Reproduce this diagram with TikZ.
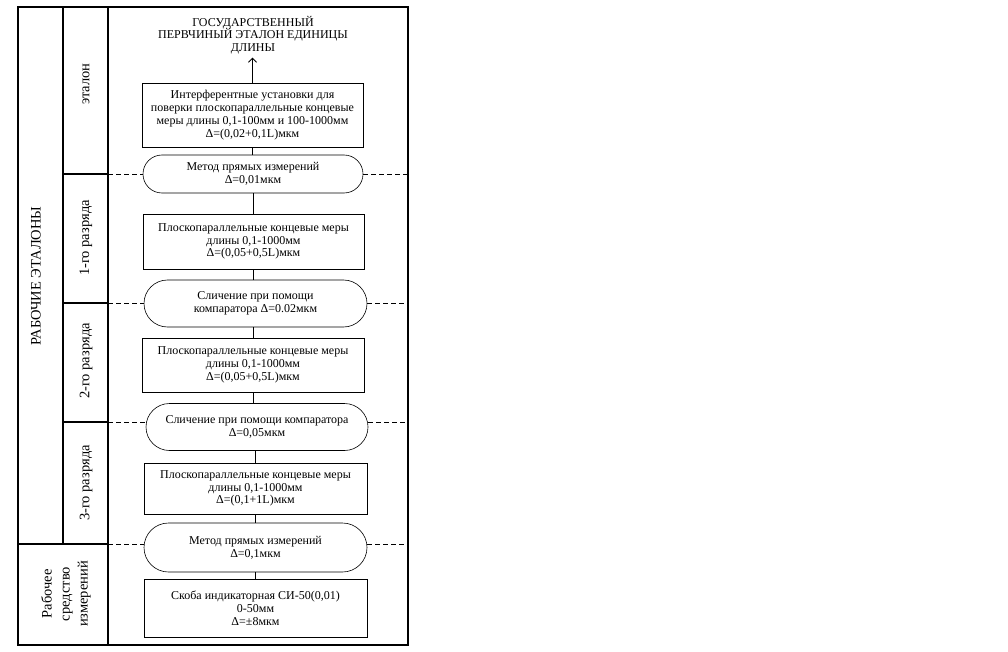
\documentclass[tikz,border=0pt]{standalone}
\usepackage{fontspec}
\setmainfont{Liberation Serif}
\usetikzlibrary{shapes.misc,arrows.meta}

\newcommand{\tfont}{\fontsize{12}{12.8}\selectfont}
\newcommand{\rfont}{\fontsize{14.5}{17}\selectfont}
\tikzstyle{bS}=[rectangle,draw,line width=0.8pt,inner sep=0pt,align=center,font=\tfont]
\tikzstyle{tS}=[rounded rectangle,draw,line width=0.6pt,inner sep=0pt,align=center,font=\tfont]
\tikzstyle{lS}=[rotate=90,align=center,font=\rfont]
\tikzstyle{eS}=[line width=0.8pt]
\tikzstyle{dS}=[line width=0.8pt,dash pattern=on 5pt off 3pt]
\tikzstyle{fS}=[line width=1.2pt]

\begin{document}
\begin{tikzpicture}[x=1pt,y=-1pt]
\useasboundingbox (0,0) rectangle (1008,652);
% table frame
\draw[fS] (18,7) rectangle (408,645);
\draw[fS] (63,7) -- (63,544) (108,7) -- (108,645);
\draw[fS] (63,174) -- (108,174) (63,303) -- (108,303) (63,422) -- (108,422) (18,544) -- (108,544);
\coordinate (r1) at (108,174);
\coordinate (r2) at (108,303);
\coordinate (r3) at (108,422);
\coordinate (r4) at (108,544);
\coordinate (fR) at (408,0);

% labels
\draw (36,276) node[lS] (lw) {РАБОЧИЕ ЭТАЛОНЫ};
\draw (86,84) node[lS] (l0) {эталон};
\draw (86,238) node[lS] (l1) {1-го разряда};
\draw (86,361) node[lS] (l2) {2-го разряда};
\draw (86,483) node[lS] (l3) {3-го разряда};
\draw (66,594) node[lS,font=\fontsize{14.5}{18}\selectfont] (l4) {Рабочее\\ средство\\ измерений};

% chain
\draw (253,35) node[align=center,font=\tfont] (t0) {ГОСУДАРСТВЕННЫЙ\\ ПЕРВЧИНЫЙ ЭТАЛОН ЕДИНИЦЫ\\ ДЛИНЫ};
\draw (252.5,115) node[bS,minimum width=221pt,minimum height=64pt] (b1) {Интерферентные установки для\\ поверки плоскопараллельные концевые\\ меры длины 0,1-100мм и 100-1000мм\\ Δ=(0,02+0,1L)мкм};
\draw (253,174) node[tS,minimum width=220pt,minimum height=38pt] (e1) {Метод прямых измерений\\ Δ=0,01мкм};
\draw (253.5,241.5) node[bS,minimum width=221pt,minimum height=55pt] (b2) {Плоскопараллельные концевые меры\\ длины 0,1-1000мм\\ Δ=(0,05+0,5L)мкм};
\draw (255.5,303.5) node[tS,minimum width=223pt,minimum height=47pt] (e2) {Сличение при помощи\\ компаратора Δ=0.02мкм};
\draw (253,365) node[bS,minimum width=222pt,minimum height=54pt] (b3) {Плоскопараллельные концевые меры\\ длины 0,1-1000мм\\ Δ=(0,05+0,5L)мкм};
\draw (257,427) node[tS,minimum width=222pt,minimum height=47pt] (e3) {Сличение при помощи компаратора\\ Δ=0,05мкм};
\draw (255.5,488.5) node[bS,minimum width=223pt,minimum height=51pt] (b4) {Плоскопараллельные концевые меры\\ длины 0,1-1000мм\\ Δ=(0,1+1L)мкм};
\draw (255.5,547.5) node[tS,minimum width=223pt,minimum height=49pt] (e4) {Метод прямых измерений\\ Δ=0,1мкм};
\draw (255.5,608) node[bS,minimum width=223pt,minimum height=58pt] (b5) {Скоба индикаторная СИ-50(0,01)\\ 0-50мм\\ Δ=±8мкм};
\path
    (b1.north) edge[eS,-{Straight Barb[length=4pt,width=8pt]}] (b1.north |- t0.south)
    (b1.south) edge[eS] (b1.south |- e1.north)
    (b2.north) edge[eS] (b2.north |- e1.south)
    (b2.south) edge[eS] (b2.south |- e2.north)
    (b3.north) edge[eS] (b3.north |- e2.south)
    (b3.south) edge[eS] (b3.south |- e3.north)
    (b4.north) edge[eS] (b4.north |- e3.south)
    (b4.south) edge[eS] (b4.south |- e4.north)
    (b5.north) edge[eS] (b5.north |- e4.south)
;
% dashed boundaries
\path
    (r1) edge[dS] (r1 -| e1.west)
    (r1 -| e1.east) edge[dS] (r1 -| fR)
    (r2) edge[dS] (r2 -| e2.west)
    (r2 -| e2.east) edge[dS] (r2 -| fR)
    (r3) edge[dS] (r3 -| e3.west)
    (r3 -| e3.east) edge[dS] (r3 -| fR)
    (r4) edge[dS] (r4 -| e4.west)
    (r4 -| e4.east) edge[dS] (r4 -| fR)
;
\end{tikzpicture}
\end{document}
